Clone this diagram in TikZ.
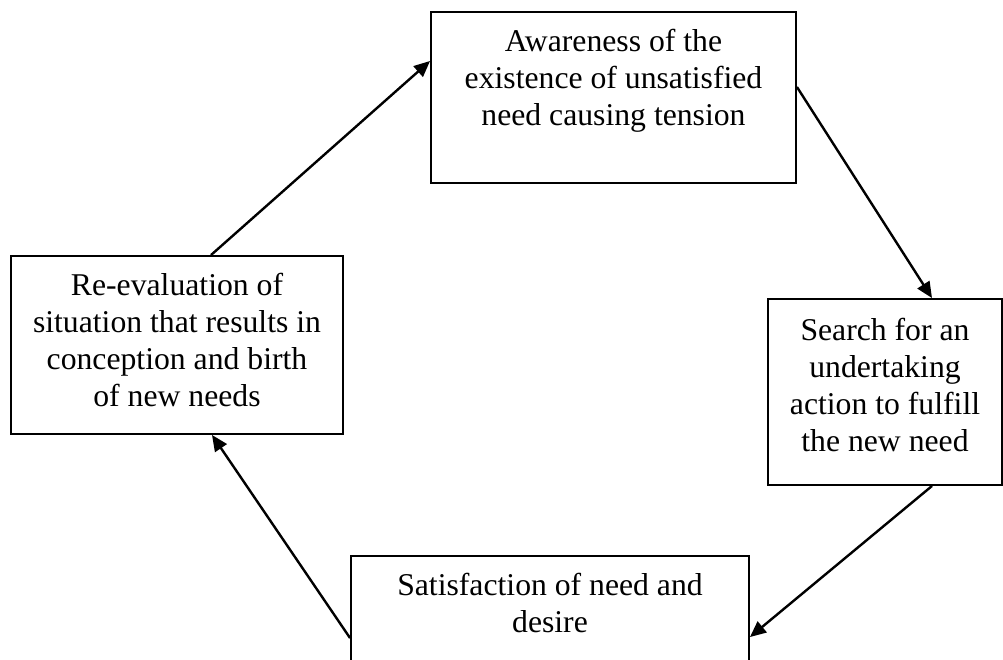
\documentclass[tikz,border=0pt]{standalone}
\usepackage{fontspec}
\setmainfont{Liberation Serif}
\usetikzlibrary{arrows.meta,calc}
\begin{document}
\begin{tikzpicture}[x=1pt,y=-1pt,
  box/.style={draw,line width=1.9pt,rectangle,inner sep=0pt},
  txt/.style={align=center,inner sep=0pt,font=\fontsize{31.7pt}{37pt}\selectfont,anchor=base},
  conn/.style={line width=2.4pt,-{Triangle[length=16pt,width=14pt]}}]
\clip (0,0) rectangle (1003,660);
\fill[white] (0,0) rectangle (1003,660);
\node[box,minimum width=365pt,minimum height=171pt] (aw) at (613.5,97.5) {};
\node[box,minimum width=332pt,minimum height=178pt] (rev) at (177,345) {};
\node[box,minimum width=234pt,minimum height=186pt] (srch) at (885,392) {};
\node[box,minimum width=398pt,minimum height=184pt] (sat) at (550,648) {};
\node[txt] (awt) at (613.5,126) {Awareness of the\\existence of unsatisfied\\need causing tension};
\node[txt] (revt) at (177,406) {Re-evaluation of\\situation that results in\\conception and birth\\of new needs};
\node[txt] (srcht) at (885,451) {Search for an\\undertaking\\action to fulfill\\the new need};
\node[txt] (satt) at (550,632) {Satisfaction of need and\\desire};
\draw[conn] ([xshift=34pt]rev.north) -- ([yshift=36.5pt]aw.west);
\draw[conn] ([yshift=10.5pt]aw.east) -- ([xshift=47pt]srch.north);
\draw[conn] ([xshift=47pt]srch.south) -- ([yshift=-82pt]sat.north east);
\draw[conn] ([yshift=-83pt]sat.north west) -- ([xshift=35pt]rev.south);
\end{tikzpicture}
\end{document}
